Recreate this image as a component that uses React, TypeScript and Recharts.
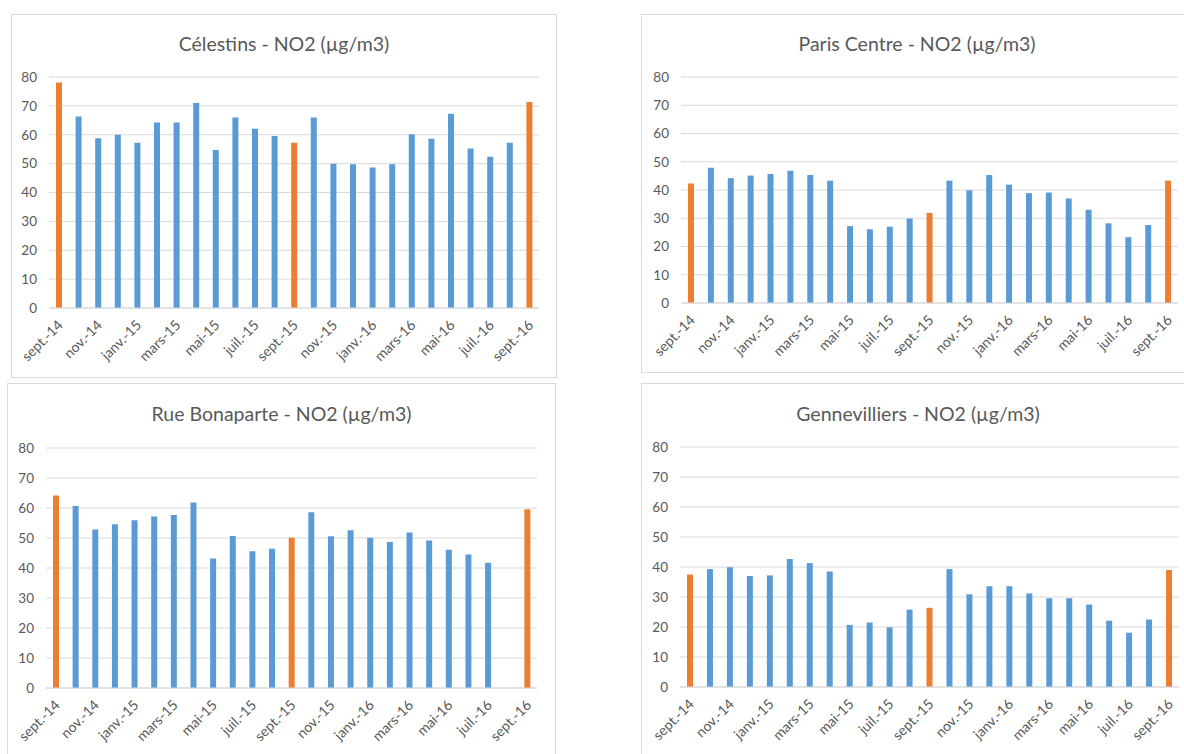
import React from "react";
import { BarChart, Bar, XAxis, YAxis, CartesianGrid, Cell } from "recharts";

const MONTHS = [
  "sept.-14", "oct.-14", "nov.-14", "déc.-14", "janv.-15", "févr.-15", "mars-15",
  "avr.-15", "mai-15", "juin-15", "juil.-15", "août-15", "sept.-15", "oct.-15",
  "nov.-15", "déc.-15", "janv.-16", "févr.-16", "mars-16", "avr.-16", "mai-16",
  "juin-16", "juil.-16", "août-16", "sept.-16",
];

// months shown in orange (same month each year)
const HIGHLIGHT = ["sept.-14", "sept.-15", "sept.-16"];

const CELESTINS = [
  78.1, 66.3, 58.8, 60.0, 57.2, 64.2, 64.2, 71.0, 54.7, 66.0, 62.1, 59.6, 57.2,
  66.0, 50.0, 49.8, 48.7, 49.8, 60.2, 58.6, 67.3, 55.2, 52.4, 57.2, 71.3,
];

const PARIS_CENTRE = [
  42.3, 47.9, 44.2, 45.1, 45.7, 46.8, 45.3, 43.3, 27.2, 26.1, 27.0, 29.9, 31.9,
  43.3, 39.9, 45.3, 41.9, 38.9, 39.1, 37.0, 33.0, 28.2, 23.3, 27.6, 43.3,
];

const BONAPARTE = [
  64.2, 60.7, 52.8, 54.6, 55.9, 57.2, 57.7, 61.8, 43.2, 50.7, 45.6, 46.4, 50.1,
  58.6, 50.6, 52.6, 50.1, 48.7, 51.8, 49.2, 46.1, 44.5, 41.7, null, 59.6,
];

const GENNEVILLIERS = [
  37.5, 39.3, 39.9, 37.0, 37.2, 42.7, 41.3, 38.5, 20.7, 21.5, 19.9, 25.8, 26.4,
  39.3, 30.9, 33.6, 33.6, 31.2, 29.6, 29.6, 27.5, 22.1, 18.1, 22.5, 39.0,
];

const Y_TICKS = [0, 10, 20, 30, 40, 50, 60, 70, 80];

const BLUE = "#5B9BD5";
const ORANGE = "#ED7D31";
const GRID = "#d9d9d9";
const TEXT = "#595959";
const FONT = "Lato, 'Open Sans', sans-serif";

function MonthTick({ x, y, payload }: any) {
  return (
    <g transform={`translate(${x + 5},${y + 10})`}>
      <text
        x={0}
        y={0}
        textAnchor="end"
        fill={TEXT}
        fontSize={14}
        fontFamily={FONT}
        transform="rotate(-45)"
      >
        {payload.value}
      </text>
    </g>
  );
}

interface PanelProps {
  title: string;
  values: (number | null)[];
  left: number;
  top: number;
  width: number;
  height: number;
  yAxisWidth: number;
  margin: { top: number; right: number; bottom: number };
  titleTop: number;
}

function Panel({ title, values, left, top, width, height, yAxisWidth, margin, titleTop }: PanelProps) {
  const data = MONTHS.map((m, i) => ({ month: m, value: values[i] }));
  return (
    <div
      style={{
        position: "absolute",
        left,
        top,
        width,
        height,
        boxSizing: "border-box",
        border: `1px solid ${GRID}`,
        background: "#fff",
      }}
    >
      <div
        style={{
          position: "absolute",
          left: 0,
          right: 0,
          top: titleTop,
          textAlign: "center",
          fontFamily: FONT,
          fontSize: 19.5,
          lineHeight: "24px",
          color: TEXT,
        }}
      >
        {title}
      </div>
      <div style={{ position: "absolute", left: -1, top: -1 }}>
        <BarChart
          width={width}
          height={height}
          data={data}
          margin={{ top: margin.top, right: margin.right, bottom: margin.bottom, left: 0 }}
        >
          <CartesianGrid vertical={false} stroke={GRID} />
          <XAxis
            dataKey="month"
            interval={1}
            tickLine={false}
            axisLine={{ stroke: GRID }}
            height={60}
            tick={<MonthTick />}
          />
          <YAxis
            domain={[0, 80]}
            ticks={Y_TICKS}
            width={yAxisWidth}
            axisLine={false}
            tickLine={false}
            tickSize={0}
            tickMargin={12}
            tick={{ fill: TEXT, fontSize: 13.5, fontFamily: FONT }}
          />
          <Bar dataKey="value" barSize={6} isAnimationActive={false}>
            {data.map((d) => (
              <Cell key={d.month} fill={HIGHLIGHT.includes(d.month) ? ORANGE : BLUE} />
            ))}
          </Bar>
        </BarChart>
      </div>
    </div>
  );
}

export default function App() {
  return (
    <div
      style={{
        position: "absolute",
        left: 0,
        top: 0,
        width: 1184,
        height: 754,
        overflow: "hidden",
        background: "#fff",
      }}
    >
      <Panel
        title="Célestins - NO2 (µg/m3)"
        values={CELESTINS}
        left={11}
        top={14}
        width={546}
        height={364}
        yAxisWidth={38}
        margin={{ top: 63, right: 18, bottom: 10 }}
        titleTop={17}
      />
      <Panel
        title="Paris Centre - NO2 (µg/m3)"
        values={PARIS_CENTRE}
        left={641}
        top={14}
        width={552}
        height={359}
        yAxisWidth={40}
        margin={{ top: 63, right: 15, bottom: 10 }}
        titleTop={17}
      />
      <Panel
        title="Rue Bonaparte - NO2 (µg/m3)"
        values={BONAPARTE}
        left={7}
        top={383}
        width={549}
        height={380}
        yAxisWidth={39}
        margin={{ top: 65, right: 19, bottom: 15 }}
        titleTop={18}
      />
      <Panel
        title="Gennevilliers - NO2 (µg/m3)"
        values={GENNEVILLIERS}
        left={641}
        top={383}
        width={554}
        height={380}
        yAxisWidth={39}
        margin={{ top: 64, right: 16, bottom: 16 }}
        titleTop={18}
      />
    </div>
  );
}
